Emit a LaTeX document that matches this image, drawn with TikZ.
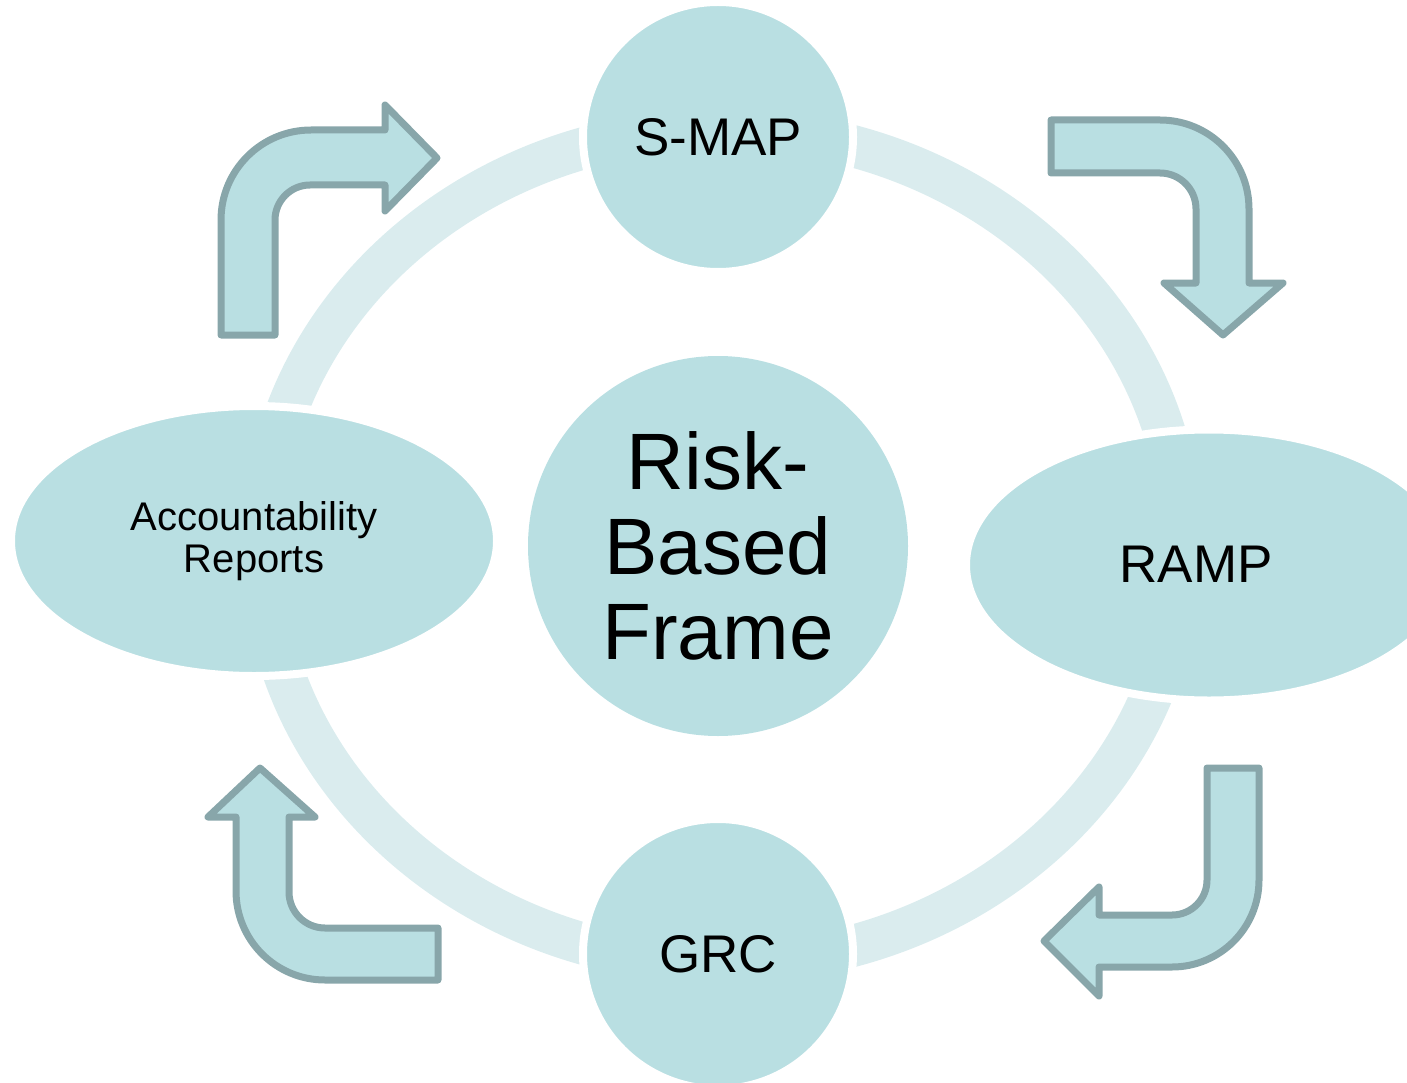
\documentclass[tikz,border=0pt]{standalone}
\usepackage{fontspec}
\setmainfont{Liberation Sans}
\usetikzlibrary{shapes.geometric}
\definecolor{nodefill}{HTML}{B9DFE2}
\definecolor{ringcol}{HTML}{DAECEE}
\definecolor{arrowline}{HTML}{88A6AA}
\begin{document}
\begin{tikzpicture}[x=1pt,y=-1pt,
  bubble/.style={circle, fill=nodefill, draw=white, line width=8pt, inner sep=0pt, align=center, text=black},
  oval/.style={ellipse, fill=nodefill, draw=white, line width=8pt, inner sep=0pt, align=center, text=black},
  bentarrow/.style={fill=nodefill, draw=arrowline, line width=7pt, line join=round}]
\useasboundingbox (0,0) rectangle (1407,1083);
\clip (0,0) rectangle (1407,1083);
% ring
\draw[ringcol, line width=42pt] (722,546) ellipse [x radius=460, y radius=417];
% nodes
\node[bubble, minimum size=270pt, font=\fontsize{53}{60}\selectfont] (smap) at (718,137) {S-MAP};
\node[bubble, minimum size=270pt, font=\fontsize{53}{60}\selectfont] (grc) at (718,954) {GRC};
\node[oval, minimum width=486pt, minimum height=270pt, font=\fontsize{40}{42}\selectfont] (acc) at (254,541) {Accountability\\Reports};
\node[oval, minimum width=486pt, minimum height=271pt] (ramp) at (1209,565) {};
\node[inner sep=0pt, font=\fontsize{53}{60}\selectfont] (ramplabel) at (1196,564) {RAMP};
\node[bubble, draw=none, minimum size=380pt, font=\fontsize{80}{85}\selectfont] (risk) at (718,546) {Risk-\\Based\\Frame};
% bent arrows
\draw[bentarrow] (221,335) -- (221,220) .. controls (221,170.3) and (261.3,130) .. (311,130) -- (385,130) -- (385,105) -- (437,158) -- (385,211) -- (385,185) -- (310,185) .. controls (290.7,185) and (275,200.7) .. (275,220) -- (275,335) -- cycle;
\draw[bentarrow] (1051,120) -- (1160,120) .. controls (1209.2,120) and (1249,159.8) .. (1249,209) -- (1249,283) -- (1283,283) -- (1223,335) -- (1164,283) -- (1196,283) -- (1196,209) .. controls (1196,189.1) and (1179.9,173) .. (1160,173) -- (1051,173) -- cycle;
\draw[bentarrow] (1207,768) -- (1259,768) -- (1259,880) .. controls (1259,928) and (1220,967) .. (1172,967) -- (1099,967) -- (1099,996) -- (1044,941) -- (1099,887) -- (1099,915) -- (1172,915) .. controls (1191.3,915) and (1207,899.3) .. (1207,880) -- cycle;
\draw[bentarrow] (260,768) -- (315,817) -- (289,817) -- (289,892) .. controls (289,911.9) and (305.1,928) .. (325,928) -- (438,928) -- (438,980) -- (325,980) .. controls (275.8,980) and (236,940.2) .. (236,891) -- (236,817) -- (208,817) -- cycle;
\end{tikzpicture}
\end{document}
